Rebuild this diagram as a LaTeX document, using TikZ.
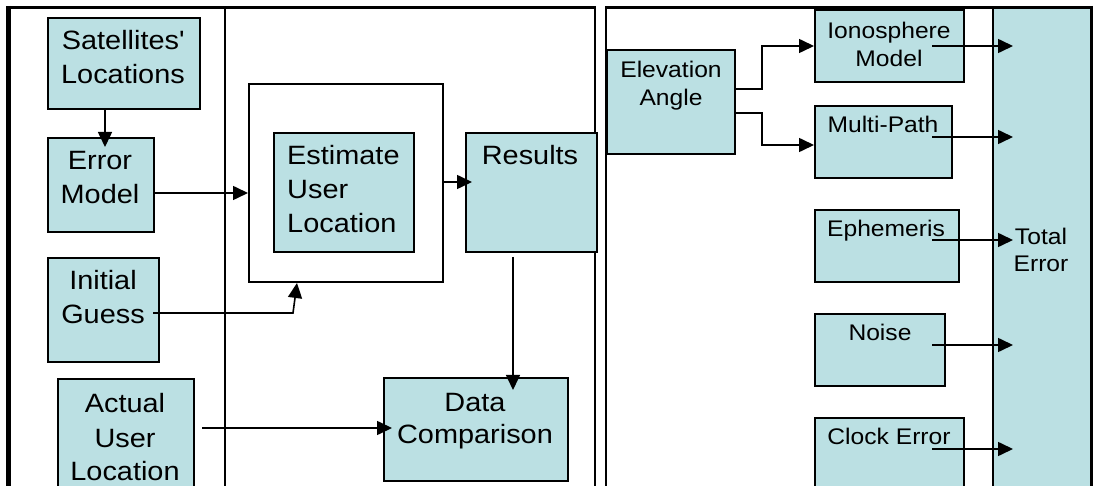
\documentclass[tikz,border=0pt]{standalone}
\usepackage{fontspec}
\setmainfont{Liberation Sans}[FakeStretch=1.09]
\usetikzlibrary{arrows.meta,calc}
\definecolor{boxfill}{HTML}{BBE0E3}
\tikzset{
  box/.style={draw=black, line width=2pt, fill=boxfill, inner sep=0pt, anchor=north west},
  plain/.style={draw=black, line width=2pt, fill=white, inner sep=0pt, anchor=north west},
  big/.style={font=\fontsize{26.5}{34}\selectfont, inner sep=0pt, anchor=base},
  small/.style={font=\fontsize{22.6}{28}\selectfont, inner sep=0pt, anchor=base},
  arr/.style={line width=1.6pt, -{Triangle[length=15pt,width=14pt]}},
  frame/.style={line width=2pt}
}
\begin{document}
\begin{tikzpicture}[x=1pt,y=-1pt]
\useasboundingbox (0,0) rectangle (1096,486);
\clip (0,0) rectangle (1096,486);

% panel frames
\draw[frame] (225,7.3) -- (225,530);
\draw[frame] (595.3,7.3) -- (595.3,530);
\draw[line width=3pt] (6,7.3) -- (596.3,7.3);
\draw[line width=4.6pt] (8.3,5.8) -- (8.3,530);
\draw[frame] (606,530) -- (606,7.3);
\draw[line width=3pt] (605,7.3) -- (1092.7,7.3);

% left panel boxes
\node[box, minimum width=152, minimum height=91] (sat) at (47,17) {};
\node[box, minimum width=106, minimum height=94] (err) at (47,137) {};
\node[box, minimum width=111, minimum height=104] (ig) at (47,257) {};
\node[box, minimum width=136, minimum height=150] (act) at (57,378) {};
\node[plain, minimum width=194, minimum height=198] (outer) at (248,83) {};
\node[box, minimum width=140, minimum height=119] (est) at (273,132) {};
\node[box, minimum width=131, minimum height=119] (res) at (465,132) {};
\node[box, minimum width=184, minimum height=103] (dc) at (383,377) {};

% right panel boxes
\node[box, minimum width=99.3, minimum height=540] (tot) at (992,7.3) {};
\node[box, minimum width=128, minimum height=104] (elev) at (606,49) {};
\node[box, minimum width=149, minimum height=72] (iono) at (814,9) {};
\node[box, minimum width=137, minimum height=72] (mp) at (814,105) {};
\node[box, minimum width=144, minimum height=72] (eph) at (814,209) {};
\node[box, minimum width=130, minimum height=72] (noise) at (814,313) {};
\node[box, minimum width=149, minimum height=120] (clk) at (814,417) {};
\draw[line width=2.7pt] (1091.3,5.8) -- (1091.3,530);

% left panel labels
\node[big] at (123,50) {Satellites\textquotesingle};
\node[big] at (123,84) {Locations};
\node[big] at (100,170) {Error};
\node[big] at (100,204) {Model};
\node[big] at (103,290) {Initial};
\node[big] at (103,324) {Guess};
\node[big] at (125,413) {Actual};
\node[big] at (125,447) {User};
\node[big] at (125,481) {Location};
\node[big, anchor=base west] at (287,165) {Estimate};
\node[big, anchor=base west] at (287,199) {User};
\node[big, anchor=base west] at (287,233) {Location};
\node[big] at (530,165) {Results};
\node[big] at (475,412) {Data};
\node[big] at (475,443) {Comparison};

% right panel labels
\node[small] at (671,78) {Elevation};
\node[small] at (671,106) {Angle};
\node[small] at (889,39) {Ionosphere};
\node[small] at (889,67) {Model};
\node[small] at (883,133) {Multi-Path};
\node[small] at (886,237) {Ephemeris};
\node[small] at (880,341) {Noise};
\node[small] at (889,445) {Clock Error};
\node[small] at (1041,245) {Total};
\node[small] at (1041,272) {Error};

% left panel connectors
\draw[arr] (105,0 |- sat.south) -- ($(105,0 |- err.north)+(0,10)$);
\draw[arr] ($(err.east |- 0,193)+(-2,0)$) -- (outer.west |- 0,193);
\draw[arr] (outer.east |- 0,182) -- ($(res.west |- 0,182)+(7,0)$);
\draw[arr] ($(ig.east |- 0,313)+(-7,0)$) -- (293,313) -- (297,0 |- outer.south);
\draw[arr] ($(act.east |- 0,428)+(7,0)$) -- ($(dc.west |- 0,428)+(9,0)$);
\draw[arr] ($(513,0 |- res.south)+(0,4)$) -- ($(513,0 |- dc.north)+(0,13)$);

% right panel connectors
\draw[arr] (elev.east |- 0,89) -- (762,89) -- (762,0 |- iono.west) -- (iono.west);
\draw[arr] (elev.east |- 0,113) -- (762,113) -- (762,145) -- (mp.west |- 0,145);
\draw[arr] (932,0 |- iono.west) -- ($(tot.west |- iono.west)+(21,0)$);
\draw[arr] (932,137) -- ($(tot.west |- 0,137)+(21,0)$);
\draw[arr] (932,240) -- ($(tot.west |- 0,240)+(21,0)$);
\draw[arr] (932,345) -- ($(tot.west |- 0,345)+(21,0)$);
\draw[arr] (932,449) -- ($(tot.west |- 0,449)+(21,0)$);
\end{tikzpicture}
\end{document}
